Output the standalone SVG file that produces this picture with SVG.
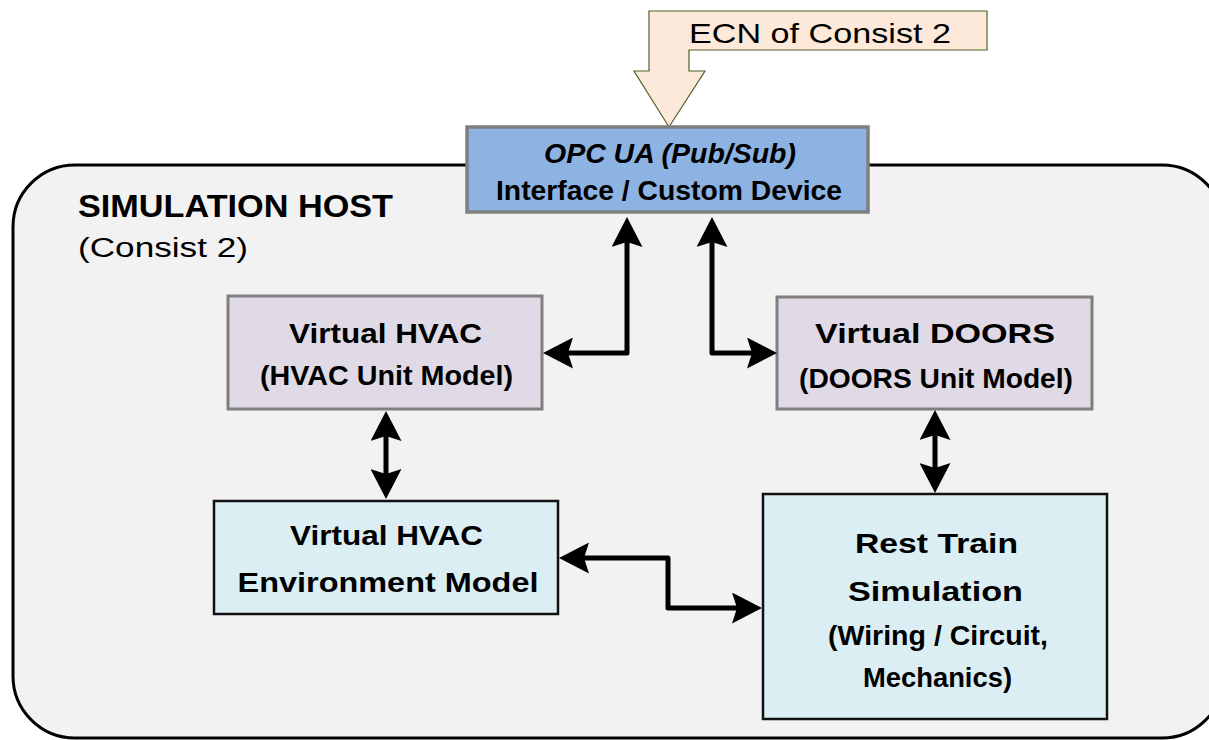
<svg xmlns="http://www.w3.org/2000/svg" width="1209" height="740" viewBox="0 0 1209 740">
  <defs>
    <style>
      text { font-family: "Liberation Sans", Arial, sans-serif; fill: #000; }
      .lbl { font-weight: bold; font-size: 28px; text-anchor: middle; }
      .title { font-weight: bold; font-size: 31px; }
      .reg { font-weight: normal; }
      .unit { fill: #dfdae6; stroke: #7f7f7f; stroke-width: 3; }
      .sim { fill: #dbeef4; stroke: #111; stroke-width: 2.5; }
      .link { fill: none; stroke: #000; stroke-width: 5; stroke-linejoin: round; marker-start: url(#head); marker-end: url(#head); }
    </style>
    <marker id="head" markerUnits="userSpaceOnUse" markerWidth="31" markerHeight="31" viewBox="0 0 30 31" refX="8" refY="15.5" orient="auto-start-reverse">
      <path d="M0,0 L30,15.5 L0,31 L5,15.5 Z" fill="#000"/>
    </marker>
  </defs>

  <rect width="1209" height="740" fill="#fff"/>

  <!-- host boundary -->
  <g id="host">
    <rect x="13" y="165" width="1211" height="573" rx="62" ry="62" fill="#f2f2f2" stroke="#000" stroke-width="3"/>
    <text class="title" x="78" y="217" textLength="315" lengthAdjust="spacingAndGlyphs">SIMULATION HOST</text>
    <text class="reg" x="78" y="257" font-size="27" textLength="170" lengthAdjust="spacingAndGlyphs">(Consist 2)</text>
  </g>

  <!-- incoming network callout -->
  <g id="ecn">
    <polygon points="649,11 987,11 987,50 689,50 689,71 705,71 669,127 634,71 649,71" fill="#fde9d9" stroke="#4f6228" stroke-width="1.2"/>
    <text class="reg" x="820" y="43" font-size="28" text-anchor="middle" textLength="262" lengthAdjust="spacingAndGlyphs">ECN of Consist 2</text>
  </g>

  <g id="opc">
    <rect x="467" y="127" width="401" height="85" fill="#8db3e2" stroke="#7f7f7f" stroke-width="3.5"/>
    <text class="lbl" x="670" y="163" font-style="italic" font-size="27" textLength="252" lengthAdjust="spacingAndGlyphs">OPC UA (Pub/Sub)</text>
    <text class="lbl" x="669" y="200" font-size="26" textLength="346" lengthAdjust="spacingAndGlyphs">Interface / Custom Device</text>
  </g>

  <g id="hvac-unit">
    <rect class="unit" x="228" y="296" width="314" height="113"/>
    <text class="lbl" x="385.5" y="343" textLength="193" lengthAdjust="spacingAndGlyphs">Virtual HVAC</text>
    <text class="lbl" x="386.5" y="385" textLength="253" lengthAdjust="spacingAndGlyphs">(HVAC Unit Model)</text>
  </g>

  <g id="doors-unit">
    <rect class="unit" x="777" y="297" width="315" height="112"/>
    <text class="lbl" x="935" y="343" textLength="240" lengthAdjust="spacingAndGlyphs">Virtual DOORS</text>
    <text class="lbl" x="936" y="388" textLength="274" lengthAdjust="spacingAndGlyphs">(DOORS Unit Model)</text>
  </g>

  <g id="hvac-env">
    <rect class="sim" x="214" y="501" width="344" height="113"/>
    <text class="lbl" x="386.5" y="545" textLength="193" lengthAdjust="spacingAndGlyphs">Virtual HVAC</text>
    <text class="lbl" x="388" y="592" textLength="301" lengthAdjust="spacingAndGlyphs">Environment Model</text>
  </g>

  <g id="rest-train">
    <rect class="sim" x="763" y="494" width="344" height="225"/>
    <text class="lbl" x="936.5" y="553" font-size="30" textLength="163" lengthAdjust="spacingAndGlyphs">Rest Train</text>
    <text class="lbl" x="935.5" y="601" font-size="30" textLength="175" lengthAdjust="spacingAndGlyphs">Simulation</text>
    <text class="lbl" x="938" y="645" textLength="220" lengthAdjust="spacingAndGlyphs">(Wiring / Circuit,</text>
    <text class="lbl" x="937.5" y="687" textLength="149" lengthAdjust="spacingAndGlyphs">Mechanics)</text>
  </g>

  <!-- bidirectional links -->
  <g id="connectors">
    <path class="link" d="M627,239 L627,353 L565,353"/>
    <path class="link" d="M712,239 L712,353 L755,353"/>
    <path class="link" d="M386,433 L386,477"/>
    <path class="link" d="M935,432 L935,471"/>
    <path class="link" d="M581,558 L668,558 L668,608 L740,608"/>
  </g>
</svg>
